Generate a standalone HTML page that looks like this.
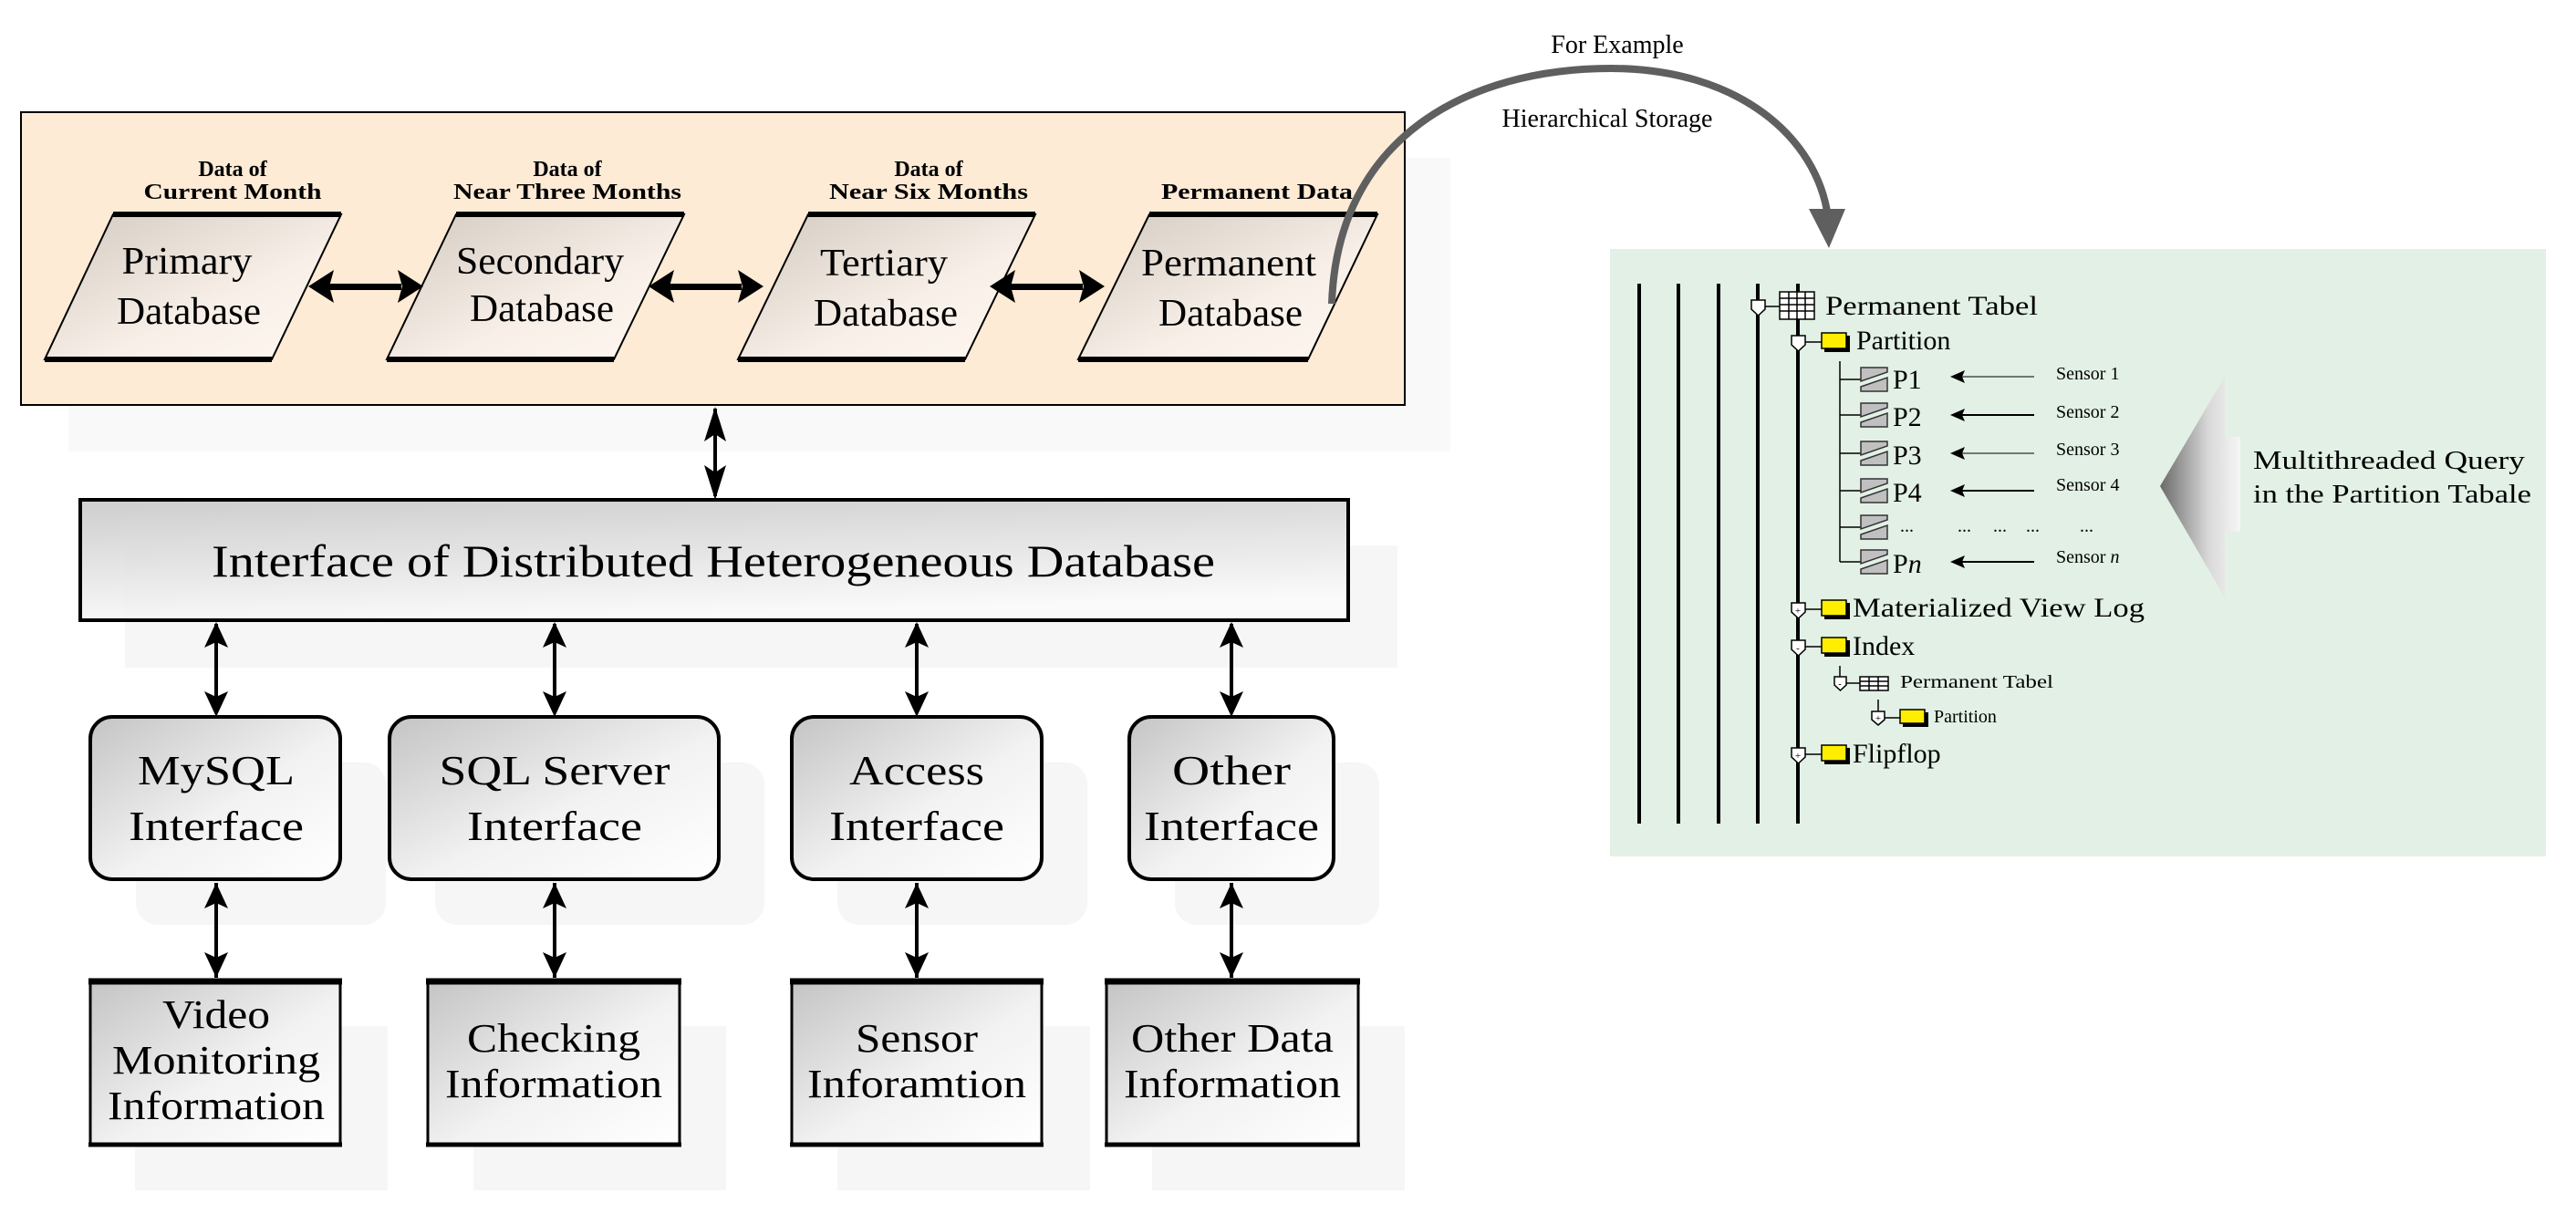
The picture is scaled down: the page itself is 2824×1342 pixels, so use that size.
<!DOCTYPE html>
<html><head><meta charset="utf-8"><style>
html,body{margin:0;padding:0;background:#fff;}
svg{display:block;}
text{font-family:"Liberation Serif",serif;fill:#000;}
</style></head><body>
<svg width="2824" height="1342" viewBox="0 0 2824 1342" xmlns="http://www.w3.org/2000/svg">
<defs>
<linearGradient id="gpar" x1="0" y1="0" x2="1" y2="1"><stop offset="0" stop-color="#d2c9c0"/><stop offset="0.6" stop-color="#f8f0e8"/><stop offset="1" stop-color="#fff8f0"/></linearGradient>
<linearGradient id="gbox" x1="0" y1="0" x2="1" y2="1"><stop offset="0" stop-color="#c4c4c4"/><stop offset="0.55" stop-color="#f2f2f2"/><stop offset="1" stop-color="#ffffff"/></linearGradient>
<linearGradient id="gifc" x1="0" y1="0" x2="0.3" y2="1"><stop offset="0" stop-color="#c8c8c8"/><stop offset="1" stop-color="#fafafa"/></linearGradient>
<linearGradient id="gtri" x1="0" y1="0" x2="1" y2="0"><stop offset="0" stop-color="#6a6a6a"/><stop offset="0.6" stop-color="#d8d8d8"/><stop offset="1" stop-color="#f6f6f6"/></linearGradient>
<g id="varr" fill="#000"><polygon points="0,682 -13,710 0,704 13,710"/><polygon points="0,786 -13,758 0,764 13,758"/></g>
<g id="harr" fill="#000"><rect x="360" y="311" width="80" height="7"/><polygon points="338,314 366,296 361,314 366,332"/><polygon points="464,314 436,296 441,314 436,332"/></g>
<g id="pic" stroke="#333" stroke-width="1.5" fill="#c0c0c0">
<path d="M2040,403 h29 v5 l-29,10 z"/><path d="M2040,424 l29,-10 v15 h-29 z"/>
</g>
</defs>

<!-- top storage panel -->
<rect x="75" y="173" width="1515" height="322" fill="#f9f9f9"/>
<rect x="23" y="123" width="1517" height="321" fill="#fdebd6" stroke="#000" stroke-width="2"/>

<g font-weight="bold" font-size="24" text-anchor="middle">
<text x="255" y="193">Data of</text><text x="255" y="218" textLength="195" lengthAdjust="spacingAndGlyphs">Current Month</text>
<text x="622" y="193">Data of</text><text x="622" y="218" textLength="250" lengthAdjust="spacingAndGlyphs">Near Three Months</text>
<text x="1018" y="193">Data of</text><text x="1018" y="218" textLength="218" lengthAdjust="spacingAndGlyphs">Near Six Months</text>
<text x="1378" y="218" textLength="210" lengthAdjust="spacingAndGlyphs">Permanent Data</text>
</g>

<g stroke="#000">
<polygon points="124,235 374,235 298,394 49,394" fill="url(#gpar)" stroke-width="2"/>
<polygon points="500,235 750,235 673,394 424,394" fill="url(#gpar)" stroke-width="2"/>
<polygon points="886,235 1135,235 1058,394 809,394" fill="url(#gpar)" stroke-width="2"/>
<polygon points="1260,235 1510,235 1434,394 1182,394" fill="url(#gpar)" stroke-width="2"/>
<g stroke-width="6">
<line x1="124" y1="235" x2="374" y2="235"/><line x1="49" y1="394" x2="298" y2="394"/>
<line x1="500" y1="235" x2="750" y2="235"/><line x1="424" y1="394" x2="673" y2="394"/>
<line x1="886" y1="235" x2="1135" y2="235"/><line x1="809" y1="394" x2="1058" y2="394"/>
<line x1="1260" y1="235" x2="1510" y2="235"/><line x1="1182" y1="394" x2="1434" y2="394"/>
</g>
</g>
<g font-size="42" text-anchor="middle">
<text x="205" y="300" textLength="143" lengthAdjust="spacingAndGlyphs">Primary</text>
<text x="207" y="355" textLength="158" lengthAdjust="spacingAndGlyphs">Database</text>
<text x="592" y="300" textLength="184" lengthAdjust="spacingAndGlyphs">Secondary</text>
<text x="594" y="352" textLength="158" lengthAdjust="spacingAndGlyphs">Database</text>
<text x="969" y="302" textLength="140" lengthAdjust="spacingAndGlyphs">Tertiary</text>
<text x="971" y="357" textLength="158" lengthAdjust="spacingAndGlyphs">Database</text>
<text x="1347" y="302" textLength="192" lengthAdjust="spacingAndGlyphs">Permanent</text>
<text x="1349" y="357" textLength="158" lengthAdjust="spacingAndGlyphs">Database</text>
</g>
<use href="#harr"/>
<use href="#harr" x="373"/>
<use href="#harr" x="747"/>

<!-- arrow top panel to interface -->
<line x1="784" y1="448" x2="784" y2="544" stroke="#000" stroke-width="4"/>
<polygon points="784,446 772,484 784,476 796,484" fill="#000"/>
<polygon points="784,548 772,510 784,518 796,510" fill="#000"/>

<!-- interface box -->
<rect x="137" y="598" width="1395" height="134" fill="#f6f6f6"/>
<rect x="88" y="548" width="1390" height="132" fill="url(#gifc)" stroke="#000" stroke-width="4" fill-opacity="0.9"/>
<text x="782" y="632" font-size="50" text-anchor="middle" textLength="1100" lengthAdjust="spacingAndGlyphs">Interface of Distributed Heterogeneous Database</text>

<!-- shadows lower -->
<g fill="#f6f6f6">
<rect x="149" y="836" width="274" height="178" rx="24"/>
<rect x="477" y="836" width="361" height="178" rx="24"/>
<rect x="918" y="836" width="274" height="178" rx="24"/>
<rect x="1288" y="836" width="224" height="178" rx="24"/>
<rect x="148" y="1125" width="277" height="180"/>
<rect x="519" y="1125" width="277" height="180"/>
<rect x="918" y="1125" width="277" height="180"/>
<rect x="1263" y="1125" width="277" height="180"/>
</g>

<!-- vertical arrows -->
<g stroke="#000" stroke-width="4">
<line x1="237" y1="684" x2="237" y2="782"/><line x1="608" y1="684" x2="608" y2="782"/><line x1="1005" y1="684" x2="1005" y2="782"/><line x1="1350" y1="684" x2="1350" y2="782"/>
<line x1="237" y1="968" x2="237" y2="1072"/><line x1="608" y1="968" x2="608" y2="1072"/><line x1="1005" y1="968" x2="1005" y2="1072"/><line x1="1350" y1="968" x2="1350" y2="1072"/>
</g>
<use href="#varr" x="237"/><use href="#varr" x="608"/><use href="#varr" x="1005"/><use href="#varr" x="1350"/>
<g transform="translate(0,286)"><use href="#varr" x="237"/><use href="#varr" x="608"/><use href="#varr" x="1005"/><use href="#varr" x="1350"/></g>

<!-- interface rounded boxes -->
<g stroke="#000" stroke-width="4" fill="url(#gbox)">
<rect x="99" y="786" width="274" height="178" rx="24"/>
<rect x="427" y="786" width="361" height="178" rx="24"/>
<rect x="868" y="786" width="274" height="178" rx="24"/>
<rect x="1238" y="786" width="224" height="178" rx="24"/>
</g>
<g font-size="46" text-anchor="middle">
<text x="237" y="860" textLength="172" lengthAdjust="spacingAndGlyphs">MySQL</text>
<text x="237" y="921" textLength="192" lengthAdjust="spacingAndGlyphs">Interface</text>
<text x="608" y="860" textLength="253" lengthAdjust="spacingAndGlyphs">SQL Server</text>
<text x="608" y="921" textLength="192" lengthAdjust="spacingAndGlyphs">Interface</text>
<text x="1005" y="860" textLength="148" lengthAdjust="spacingAndGlyphs">Access</text>
<text x="1005" y="921" textLength="192" lengthAdjust="spacingAndGlyphs">Interface</text>
<text x="1350" y="860" textLength="130" lengthAdjust="spacingAndGlyphs">Other</text>
<text x="1350" y="921" textLength="192" lengthAdjust="spacingAndGlyphs">Interface</text>
</g>

<!-- bottom boxes -->
<g stroke="#000" stroke-width="3" fill="url(#gbox)">
<rect x="99" y="1076" width="274" height="179"/>
<rect x="469" y="1076" width="276" height="179"/>
<rect x="868" y="1076" width="274" height="179"/>
<rect x="1213" y="1076" width="276" height="179"/>
</g>
<g stroke="#000" stroke-width="7">
<line x1="97" y1="1076" x2="375" y2="1076"/><line x1="467" y1="1076" x2="747" y2="1076"/><line x1="866" y1="1076" x2="1144" y2="1076"/><line x1="1211" y1="1076" x2="1491" y2="1076"/>
</g>
<g stroke="#000" stroke-width="5">
<line x1="97" y1="1255" x2="375" y2="1255"/><line x1="467" y1="1255" x2="747" y2="1255"/><line x1="866" y1="1255" x2="1144" y2="1255"/><line x1="1211" y1="1255" x2="1491" y2="1255"/>
</g>
<g font-size="44" text-anchor="middle">
<text x="237" y="1127" textLength="118" lengthAdjust="spacingAndGlyphs">Video</text>
<text x="237" y="1177" textLength="228" lengthAdjust="spacingAndGlyphs">Monitoring</text>
<text x="237" y="1227" textLength="238" lengthAdjust="spacingAndGlyphs">Information</text>
<text x="607" y="1153" textLength="190" lengthAdjust="spacingAndGlyphs">Checking</text>
<text x="607" y="1203" textLength="238" lengthAdjust="spacingAndGlyphs">Information</text>
<text x="1005" y="1153" textLength="134" lengthAdjust="spacingAndGlyphs">Sensor</text>
<text x="1005" y="1203" textLength="240" lengthAdjust="spacingAndGlyphs">Inforamtion</text>
<text x="1351" y="1153" textLength="222" lengthAdjust="spacingAndGlyphs">Other Data</text>
<text x="1351" y="1203" textLength="238" lengthAdjust="spacingAndGlyphs">Information</text>
</g>

<!-- curved arrow -->
<path d="M1460,333 C1466,150 1610,75 1766,75 C1905,75 1992,150 2004,238" fill="none" stroke="#5f5f5f" stroke-width="8"/>
<polygon points="1983,229 2023,229 2005,272" fill="#5f5f5f"/>
<g font-size="28" text-anchor="middle">
<text x="1773" y="58">For Example</text>
<text x="1762" y="139">Hierarchical Storage</text>
</g>

<!-- right panel -->
<rect x="1765" y="273" width="1026" height="666" fill="#e2f0e5"/>
<g stroke="#000" stroke-width="4">
<line x1="1797" y1="311" x2="1797" y2="903"/><line x1="1840" y1="311" x2="1840" y2="903"/><line x1="1884" y1="311" x2="1884" y2="903"/><line x1="1927" y1="311" x2="1927" y2="903"/><line x1="1971" y1="311" x2="1971" y2="903"/>
</g>
<g stroke="#000" stroke-width="1.5" fill="none">
<line x1="1935" y1="336" x2="1951" y2="336"/>
<line x1="1979" y1="375" x2="1997" y2="375"/>
<line x1="2017" y1="396" x2="2017" y2="616"/>
<line x1="2017" y1="416" x2="2040" y2="416"/><line x1="2017" y1="455" x2="2040" y2="455"/><line x1="2017" y1="497" x2="2040" y2="497"/><line x1="2017" y1="538" x2="2040" y2="538"/><line x1="2017" y1="578" x2="2040" y2="578"/><line x1="2017" y1="616" x2="2040" y2="616"/>
<line x1="1979" y1="668" x2="1997" y2="668"/><line x1="1979" y1="709" x2="1997" y2="709"/><line x1="1979" y1="827" x2="1997" y2="827"/>
<line x1="2017" y1="730" x2="2017" y2="742"/><line x1="2024" y1="749" x2="2039" y2="749"/>
<line x1="2059" y1="767" x2="2059" y2="780"/><line x1="2066" y1="787" x2="2083" y2="787"/>
</g>
<!-- toggles -->
<g fill="#fff" stroke="#000" stroke-width="1.5">
<path d="M1920,329 h15 v10 l-7.5,7 l-7.5,-7 z"/>
<path d="M1964,368 h15 v10 l-7.5,7 l-7.5,-7 z"/>
<path d="M1964,661 h15 v10 l-7.5,7 l-7.5,-7 z"/>
<path d="M1964,702 h15 v10 l-7.5,7 l-7.5,-7 z"/>
<path d="M1964,820 h15 v10 l-7.5,7 l-7.5,-7 z"/>
<path d="M2011,742 h13 v9 l-6.5,6 l-6.5,-6 z"/>
<path d="M2052,780 h14 v9 l-7,6 l-7,-6 z"/>
</g>
<g font-size="11" text-anchor="middle" font-family="Liberation Sans,sans-serif">
<text x="1971" y="673">+</text><text x="1971" y="714">-</text><text x="1971" y="832">+</text><text x="2017" y="753">-</text><text x="2059" y="791">+</text>
</g>
<!-- table icons -->
<g stroke="#000" stroke-width="1.5" fill="#fff">
<rect x="1951" y="320" width="38" height="30"/>
<path d="M1951,327h38M1951,334h38M1951,341h38M1961,320v30M1970,320v30M1979,320v30" fill="none"/>
<rect x="2039" y="742" width="31" height="15"/>
<path d="M2039,747h31M2039,752h31M2049,742v15M2059,742v15" fill="none"/>
</g>
<!-- folders -->
<g>
<rect x="2000" y="368" width="28" height="18" fill="#000"/><rect x="1997" y="365" width="27" height="17" fill="#ffee00" stroke="#000" stroke-width="1.5"/>
<rect x="2000" y="661" width="28" height="18" fill="#000"/><rect x="1997" y="658" width="27" height="17" fill="#ffee00" stroke="#000" stroke-width="1.5"/>
<rect x="2000" y="702" width="28" height="18" fill="#000"/><rect x="1997" y="699" width="27" height="17" fill="#ffee00" stroke="#000" stroke-width="1.5"/>
<rect x="2000" y="820" width="28" height="18" fill="#000"/><rect x="1997" y="817" width="27" height="17" fill="#ffee00" stroke="#000" stroke-width="1.5"/>
<rect x="2086" y="781" width="28" height="16" fill="#000"/><rect x="2083" y="778" width="27" height="15" fill="#ffee00" stroke="#000" stroke-width="1.5"/>
</g>
<!-- partition icons -->
<use href="#pic"/><use href="#pic" y="39"/><use href="#pic" y="81"/><use href="#pic" y="122"/><use href="#pic" y="162"/><use href="#pic" y="200"/>
<g font-size="30">
<text x="2001" y="345" textLength="233" lengthAdjust="spacingAndGlyphs">Permanent Tabel</text>
<text x="2035" y="383">Partition</text>
<text x="2075" y="426">P1</text><text x="2075" y="467">P2</text><text x="2075" y="509">P3</text><text x="2075" y="550">P4</text>
<text x="2075" y="628">P<tspan font-style="italic">n</tspan></text>
<text x="2031" y="676" textLength="320" lengthAdjust="spacingAndGlyphs">Materialized View Log</text>
<text x="2031" y="718">Index</text>
<text x="2031" y="836">Flipflop</text>
</g>
<g font-size="20">
<text x="2083" y="583">...</text>
<text x="2146" y="583">...</text><text x="2185" y="583">...</text><text x="2221" y="583">...</text><text x="2280" y="583">...</text>
<text x="2083" y="754" textLength="168" lengthAdjust="spacingAndGlyphs">Permanent Tabel</text>
<text x="2120" y="792">Partition</text>
<text x="2254" y="416">Sensor 1</text><text x="2254" y="458">Sensor 2</text><text x="2254" y="499">Sensor 3</text><text x="2254" y="538">Sensor 4</text>
<text x="2254" y="617">Sensor <tspan font-style="italic">n</tspan></text>
</g>
<g stroke="#000" stroke-width="2">
<line x1="2150" y1="413" x2="2230" y2="413" stroke-width="1"/><line x1="2150" y1="455" x2="2230" y2="455"/><line x1="2150" y1="497" x2="2230" y2="497" stroke-width="1"/><line x1="2150" y1="538" x2="2230" y2="538"/><line x1="2150" y1="616" x2="2230" y2="616"/>
</g>
<g fill="#000">
<polygon points="2138,413 2154,406 2151,413 2154,420"/><polygon points="2138,455 2154,448 2151,455 2154,462"/><polygon points="2138,497 2154,490 2151,497 2154,504"/><polygon points="2138,538 2154,531 2151,538 2154,545"/><polygon points="2138,616 2154,609 2151,616 2154,623"/>
</g>
<!-- big triangle -->
<polygon points="2368,533 2439,413 2439,479 2456,479 2456,583 2439,583 2439,655" fill="url(#gtri)"/>
<g font-size="29">
<text x="2470" y="514" textLength="298" lengthAdjust="spacingAndGlyphs">Multithreaded Query</text>
<text x="2470" y="551" textLength="305" lengthAdjust="spacingAndGlyphs">in the Partition Tabale</text>
</g>
</svg>
</body></html>
